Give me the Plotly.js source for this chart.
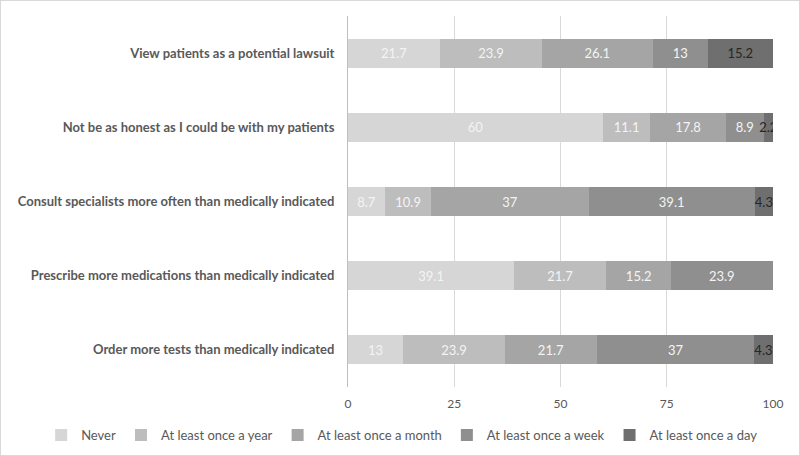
<!DOCTYPE html>
<html>
<head>
<meta charset="utf-8">
<script src="https://cdn.plot.ly/plotly-3.0.1.min.js"></script>
<style>
html,body{margin:0;padding:0;background:#fff;overflow:hidden;}
#chart{position:absolute;left:0;top:0;width:800px;height:462px;}
#frame{position:absolute;left:0;top:0;width:800px;height:456px;box-sizing:border-box;border:1px solid #d9d9d9;pointer-events:none;z-index:10;}
</style>
</head>
<body>
<div id="chart"></div>
<div id="frame"></div>
<script>
const categories = [
  "View patients as a potential lawsuit",
  "Not be as honest as I could be with my patients",
  "Consult specialists more often than medically indicated",
  "Prescribe more medications than medically indicated",
  "Order more tests than medically indicated"
];
const seriesNames = ["Never", "At least once a year", "At least once a month", "At least once a week", "At least once a day"];
const never = [21.7, 60, 8.7, 39.1, 13];
const onceYear = [23.9, 11.1, 10.9, 21.7, 23.9];
const onceMonth = [26.1, 17.8, 37, 15.2, 21.7];
const onceWeek = [13, 8.9, 39.1, 23.9, 37];
const onceDay = [15.2, 2.2, 4.3, 0, 4.3];
const xTicks = [0, 25, 50, 75, 100];

const allSeries = [never, onceYear, onceMonth, onceWeek, onceDay];
const colors = ["#d6d6d6", "#bdbdbd", "#a5a5a5", "#8f8f8f", "#6f6f6f"];
const textColors = ["#f4f4f4", "#f4f4f4", "#f4f4f4", "#f4f4f4", "#262626"];

const traces = allSeries.map((vals, i) => ({
  type: "bar",
  orientation: "h",
  name: seriesNames[i],
  x: vals,
  y: categories,
  text: vals.map(v => v > 0 ? String(v) : ""),
  textposition: "inside",
  insidetextanchor: "middle",
  constraintext: "none",
  textangle: 0,
  textfont: {family: "Lato, sans-serif", size: 13, color: textColors[i]},
  marker: {color: colors[i]},
  hoverinfo: "x+name"
}));

const layout = {
  barmode: "stack",
  bargap: 0.61,
  width: 800,
  height: 462,
  margin: {l: 348, r: 27, t: 16, b: 75},
  paper_bgcolor: "#ffffff",
  plot_bgcolor: "#ffffff",
  font: {family: "Lato, sans-serif", color: "#595959"},
  xaxis: {
    range: [0, 100],
    tickvals: xTicks,
    ticktext: xTicks.map(String),
    showgrid: true,
    gridcolor: "#d9d9d9",
    gridwidth: 1,
    zeroline: false,
    showline: false,
    ticks: "",
    ticklabelstandoff: 8,
    tickfont: {size: 12, color: "#595959"},
    fixedrange: true
  },
  yaxis: {
    autorange: "reversed",
    showgrid: false,
    zeroline: false,
    showline: true,
    linecolor: "#bfbfbf",
    linewidth: 1,
    ticks: "",
    ticklabelstandoff: 10,
    tickfont: {size: 13, color: "#595959", weight: "bold"},
    fixedrange: true
  },
  legend: {
    orientation: "h",
    xref: "paper",
    yref: "paper",
    x: -0.722,
    xanchor: "left",
    y: -0.089,
    yanchor: "top",
    font: {size: 13, color: "#595959"},
    traceorder: "normal"
  },
  showlegend: true
};

Plotly.newPlot("chart", traces, layout, {displayModeBar: false, staticPlot: true});
</script>
</body>
</html>
